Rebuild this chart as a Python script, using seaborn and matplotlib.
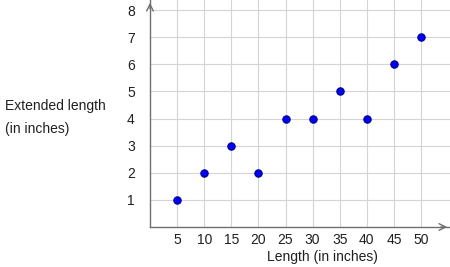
import matplotlib
matplotlib.use("Agg")
import matplotlib.pyplot as plt
import seaborn as sns
import pandas as pd

length = [5, 10, 15, 20, 25, 30, 35, 40, 45, 50]
extended = [1, 2, 3, 2, 4, 4, 5, 4, 6, 7]
x_ticks = [5, 10, 15, 20, 25, 30, 35, 40, 45, 50]
y_ticks = [1, 2, 3, 4, 5, 6, 7, 8]

sns.set_theme(style="white")
plt.rcParams['font.family'] = ['Liberation Sans', 'DejaVu Sans']

df = pd.DataFrame({"Length": length, "Extended": extended})

W, H = 450, 267
fig = plt.figure(figsize=(W / 100, H / 100), dpi=100)
ax = fig.add_axes([150 / W, 40 / H, 300 / W, 227 / H])

px = 27.1 / 5  # pixels per x unit
py = 27.1      # pixels per y unit
ax.set_xlim(0, 300 / px)
ax.set_ylim(0, 227 / py)

sns.scatterplot(data=df, x="Length", y="Extended", ax=ax, color="#0000ff",
                edgecolor="#000080", linewidth=0.8, s=28, zorder=5)

ax.set_xticks(x_ticks)
ax.set_yticks(y_ticks)
ax.set_xticklabels([str(v) for v in x_ticks], fontsize=10, color="#202020")
ax.set_yticklabels([str(v) for v in y_ticks], fontsize=10, color="#202020")
ax.tick_params(axis="x", length=0, pad=4)
ax.tick_params(axis="y", length=3, width=0.8, color="#808080", pad=8, direction="out")
ax.grid(True, color="#d4d4d4", linewidth=0.8)
ax.set_axisbelow(True)

for s in ["top", "right"]:
    ax.spines[s].set_visible(False)
for s in ["left", "bottom"]:
    ax.spines[s].set_color("#707070")
    ax.spines[s].set_linewidth(1.0)

# arrows at axis ends
ax.annotate("", xy=(1.0, 0), xytext=(0.96, 0), xycoords="axes fraction",
            arrowprops=dict(arrowstyle="->", color="#707070", lw=1.0), annotation_clip=False)
ax.annotate("", xy=(0, 1.0), xytext=(0, 0.95), xycoords="axes fraction",
            arrowprops=dict(arrowstyle="->", color="#707070", lw=1.0), annotation_clip=False)

ax.set_xlabel("Length (in inches)", fontsize=10, color="#202020", va="center")
ax.xaxis.set_label_coords((322 - 150) / 300, -(257 - 227) / 227)
ax.set_ylabel("")
fig.text(5 / W, 1 - 106 / H, "Extended length", fontsize=10, color="#202020",
         ha="left", va="center")
fig.text(5 / W, 1 - 129 / H, "(in inches)", fontsize=10, color="#202020",
         ha="left", va="center")

fig.savefig("out.png", dpi=100)
